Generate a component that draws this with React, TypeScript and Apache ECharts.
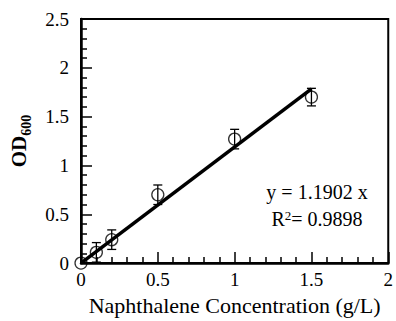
import React, { useEffect, useRef } from "react";
import * as echarts from "echarts";

const concentrations = [0, 0.1, 0.2, 0.5, 1.0, 1.5];
const odValues = [0, 0.11, 0.24, 0.7, 1.27, 1.7];
const errValues = [0, 0.1, 0.1, 0.1, 0.1, 0.09];
const fitX = [0, 1.5];
const fitY = [0, 1.7853];
const equationText = "y = 1.1902 x";
const r2Text = "0.9898";

const FONT = "Liberation Serif";

export default function App() {
  const ref = useRef<HTMLDivElement>(null);
  useEffect(() => {
    if (!ref.current) return;
    const chart = echarts.init(ref.current, undefined, { renderer: "svg" });
    const points = concentrations.map((x, i) => [x, odValues[i], errValues[i]]);
    const fit = fitX.map((x, i) => [x, fitY[i]]);
    chart.setOption({
      animation: false,
      backgroundColor: "#fff",
      textStyle: { fontFamily: FONT },
      grid: {
        left: 79,
        right: 6,
        top: 19,
        bottom: 54,
        show: true,
        borderColor: "#000",
        borderWidth: 2,
        backgroundColor: "transparent",
      },
      xAxis: {
        type: "value",
        min: 0,
        max: 2,
        interval: 0.5,
        name: "Naphthalene Concentration (g/L)",
        nameLocation: "middle",
        nameGap: 28,
        nameTextStyle: { fontFamily: FONT, fontSize: 22, color: "#000" },
        axisLine: { show: true, lineStyle: { color: "#000", width: 2.5 } },
        axisTick: { show: true, inside: true, length: 11, lineStyle: { color: "#000", width: 1.5 } },
        minorTick: { show: true, splitNumber: 5, length: 6, lineStyle: { color: "#000", width: 1.5 } },
        axisLabel: { fontFamily: FONT, fontSize: 19, color: "#000", margin: 7 },
        splitLine: { show: false },
      },
      yAxis: {
        type: "value",
        min: 0,
        max: 2.5,
        interval: 0.5,
        name: "{a|OD}{b|600}",
        nameLocation: "middle",
        nameRotate: 90,
        nameGap: 52,
        nameTextStyle: {
          fontFamily: FONT,
          color: "#000",
          rich: {
            a: { fontFamily: FONT, fontSize: 21, fontWeight: "bold", color: "#000", verticalAlign: "bottom" },
            b: { fontFamily: FONT, fontSize: 14, fontWeight: "bold", color: "#000", verticalAlign: "bottom", padding: [0, 0, -4, 0] },
          },
        },
        axisLine: { show: true, lineStyle: { color: "#000", width: 2.5 } },
        axisTick: { show: true, inside: true, length: 11, lineStyle: { color: "#000", width: 1.5 } },
        minorTick: { show: true, splitNumber: 5, length: 6, lineStyle: { color: "#000", width: 1.5 } },
        axisLabel: { fontFamily: FONT, fontSize: 19, color: "#000", margin: 12 },
        splitLine: { show: false },
      },
      graphic: [
        {
          type: "text",
          x: 317,
          y: 192,
          style: {
            text: equationText,
            fontFamily: FONT,
            fontSize: 20,
            fill: "#000",
            textAlign: "center",
            textVerticalAlign: "middle",
          },
        },
        {
          type: "text",
          x: 317,
          y: 219,
          style: {
            text: "{n|R}{s|2}{n|= " + r2Text + "}",
            fontFamily: FONT,
            fontSize: 20,
            fill: "#000",
            textAlign: "center",
            textVerticalAlign: "middle",
            rich: {
              n: { fontFamily: FONT, fontSize: 20, fill: "#000" },
              s: { fontFamily: FONT, fontSize: 13, fill: "#000", verticalAlign: "top", padding: [0, 0, 8, 0] },
            },
          },
        },
      ],
      series: [
        {
          type: "custom",
          data: points,
          clip: false,
          z: 3,
          renderItem: (params: any, api: any) => {
            const x = api.value(0);
            const y = api.value(1);
            const e = api.value(2);
            if (!e) return { type: "group", children: [] };
            const top = api.coord([x, y + e]);
            const bot = api.coord([x, y - e]);
            const hw = 4.5;
            const style = { stroke: "#000", lineWidth: 1.3 };
            return {
              type: "group",
              children: [
                { type: "line", shape: { x1: top[0], y1: top[1], x2: bot[0], y2: bot[1] }, style },
                { type: "line", shape: { x1: top[0] - hw, y1: top[1], x2: top[0] + hw, y2: top[1] }, style },
                { type: "line", shape: { x1: bot[0] - hw, y1: bot[1], x2: bot[0] + hw, y2: bot[1] }, style },
              ],
            };
          },
        },
        {
          type: "scatter",
          data: points.map((p) => [p[0], p[1]]),
          symbol: "circle",
          symbolSize: 12,
          clip: false,
          z: 4,
          itemStyle: { color: "transparent", borderColor: "#000", borderWidth: 1.3 },
        },
        {
          type: "line",
          data: fit,
          showSymbol: false,
          symbol: "none",
          z: 5,
          lineStyle: { color: "#000", width: 3.5 },
        },
      ],
    });
    return () => chart.dispose();
  }, []);
  return <div ref={ref} style={{ width: 396, height: 321, position: "absolute", left: 0, top: 0 }} />;
}
